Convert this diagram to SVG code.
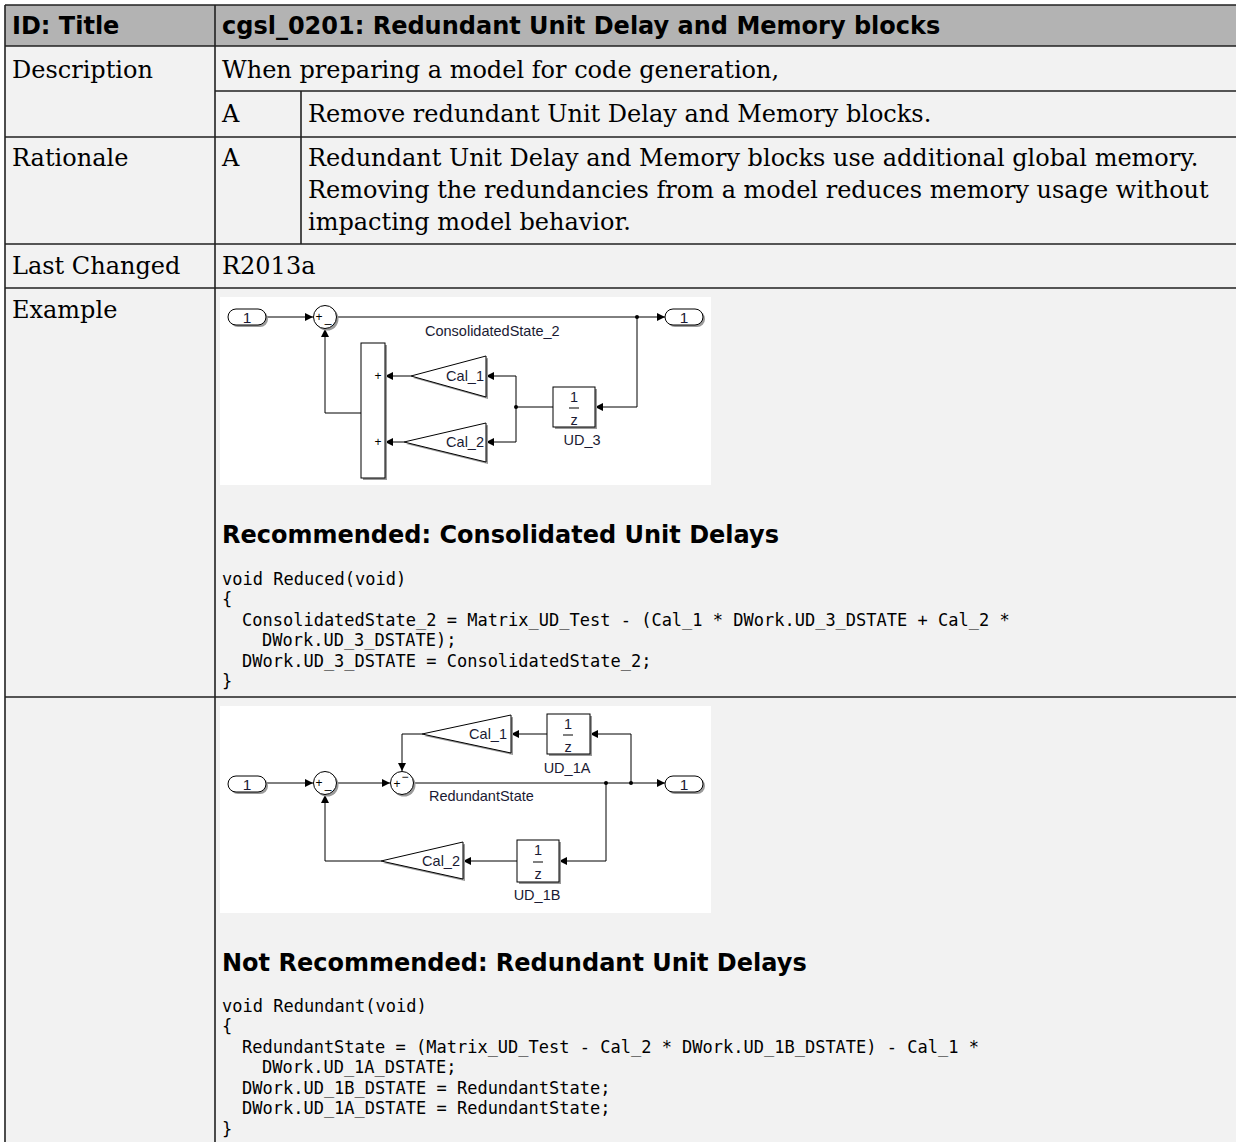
<svg xmlns="http://www.w3.org/2000/svg" width="1236" height="1142" viewBox="0 0 1236 1142">
<defs>
<style>
.hd{font-family:"DejaVu Sans",sans-serif;font-weight:bold;font-size:24px;fill:#000}
.bd{font-family:"DejaVu Serif",serif;font-size:24px;fill:#000}
.sub{font-family:"DejaVu Sans",sans-serif;font-weight:bold;font-size:24px;fill:#000}
.code{font-family:"DejaVu Sans Mono",monospace;font-size:17px;fill:#000}
.grid{stroke:#222;stroke-width:1.6;fill:none}
.lbl{font-family:"Liberation Sans",Arial,sans-serif;font-size:14.5px;fill:#1a1a33}
.pt{font-family:"Liberation Sans",Arial,sans-serif;font-size:15.5px;fill:#1a1a33}
.sg{font-family:"Liberation Sans",Arial,sans-serif;font-size:12px;fill:#000}
.blk{fill:#fff;stroke:#000;stroke-width:1}
.sh{fill:#9a9a9a}
.ln{stroke:#000;stroke-width:1;fill:none}
.dot{fill:#000}
</style>
<marker id="ah" viewBox="0 0 10 10" refX="10" refY="5" markerWidth="9" markerHeight="8" markerUnits="userSpaceOnUse" orient="auto">
<path d="M0,0 L10,5 L0,10 z" fill="#000"/>
</marker>
</defs>

<g id="table">
<rect x="0" y="0" width="1236" height="1142" fill="#fff"/>
<rect x="5" y="5" width="1231" height="1137" fill="#f2f2f2"/>
<rect x="5" y="5" width="1231" height="41" fill="#b3b3b3"/>
<path class="grid" d="M5,5 H1236 M5,46 H1236 M215,91 H1236 M5,137 H1236 M5,244 H1236 M5,288 H1236 M5,697 H1236 M5,5 V1142 M215,5 V1142 M301,91 V244"/>
</g>

<g id="texts">
<text class="hd" x="12" y="34">ID: Title</text>
<text class="hd" x="222" y="34">cgsl_0201: Redundant Unit Delay and Memory blocks</text>
<text class="bd" x="12" y="78">Description</text>
<text class="bd" x="222" y="78">When preparing a model for code generation,</text>
<text class="bd" x="222" y="122">A</text>
<text class="bd" x="308" y="122">Remove redundant Unit Delay and Memory blocks.</text>
<text class="bd" x="12" y="166">Rationale</text>
<text class="bd" x="222" y="166">A</text>
<text class="bd" x="308" y="166">Redundant Unit Delay and Memory blocks use additional global memory.</text>
<text class="bd" x="308" y="198">Removing the redundancies from a model reduces memory usage without</text>
<text class="bd" x="308" y="230">impacting model behavior.</text>
<text class="bd" x="12" y="274">Last Changed</text>
<text class="bd" x="222" y="274">R2013a</text>
<text class="bd" x="12" y="318">Example</text>
<text class="sub" x="222" y="543">Recommended: Consolidated Unit Delays</text>
<text class="code" x="222" y="584.5">void Reduced(void)</text>
<text class="code" x="222" y="605">{</text>
<text class="code" x="242" y="625.5">ConsolidatedState_2 = Matrix_UD_Test - (Cal_1 * DWork.UD_3_DSTATE + Cal_2 *</text>
<text class="code" x="262" y="646">DWork.UD_3_DSTATE);</text>
<text class="code" x="242" y="666.5">DWork.UD_3_DSTATE = ConsolidatedState_2;</text>
<text class="code" x="222" y="687">}</text>
<text class="sub" x="222" y="971">Not Recommended: Redundant Unit Delays</text>
<text class="code" x="222" y="1011.5">void Redundant(void)</text>
<text class="code" x="222" y="1032">{</text>
<text class="code" x="242" y="1052.5">RedundantState = (Matrix_UD_Test - Cal_2 * DWork.UD_1B_DSTATE) - Cal_1 *</text>
<text class="code" x="262" y="1073">DWork.UD_1A_DSTATE;</text>
<text class="code" x="242" y="1093.5">DWork.UD_1B_DSTATE = RedundantState;</text>
<text class="code" x="242" y="1114">DWork.UD_1A_DSTATE = RedundantState;</text>
<text class="code" x="222" y="1134.5">}</text>
</g>

<!-- Diagram 1 -->
<g id="diagram1">
<rect x="220" y="297" width="491" height="188" fill="#fff"/>
<g id="d1-connectors">
<path class="ln" d="M266,317 H313" marker-end="url(#ah)"/>
<path class="ln" d="M337,317 H665" marker-end="url(#ah)"/>
<path class="ln" d="M637,317 V407 H595" marker-end="url(#ah)"/>
<path class="ln" d="M553,407 H516"/>
<path class="ln" d="M516,376 V442"/>
<path class="ln" d="M516,376 H486" marker-end="url(#ah)"/>
<path class="ln" d="M516,442 H486" marker-end="url(#ah)"/>
<path class="ln" d="M411,376 H385" marker-end="url(#ah)"/>
<path class="ln" d="M404,442 H385" marker-end="url(#ah)"/>
<path class="ln" d="M361,413 H325 V329" marker-end="url(#ah)"/>
<circle class="dot" cx="637" cy="317" r="2"/>
<circle class="dot" cx="516" cy="407" r="2"/>
<text class="lbl" x="425" y="336">ConsolidatedState_2</text>
</g>
<g id="d1-in1">
<rect class="sh" x="230" y="311" width="38" height="16" rx="8"/>
<rect class="blk" x="228" y="309" width="38" height="16" rx="8"/>
<text class="pt" x="247" y="323" text-anchor="middle">1</text>
</g>
<g id="d1-sum">
<circle class="sh" cx="327" cy="319" r="11.5"/>
<circle class="blk" cx="325" cy="317" r="11.5"/>
<text class="sg" x="319" y="321" text-anchor="middle">+</text>
<text class="sg" x="328" y="322" text-anchor="middle">_</text>
</g>
<g id="d1-out1">
<rect class="sh" x="667" y="311" width="38" height="16" rx="8"/>
<rect class="blk" x="665" y="309" width="38" height="16" rx="8"/>
<text class="pt" x="684" y="323" text-anchor="middle">1</text>
</g>
<g id="d1-ud3">
<rect class="sh" x="555" y="389" width="42" height="40"/>
<rect class="blk" x="553" y="387" width="42" height="40"/>
<text class="lbl" x="574" y="402" text-anchor="middle">1</text>
<path class="ln" d="M569,408 H579"/>
<text class="lbl" x="574" y="425" text-anchor="middle">z</text>
<text class="lbl" x="582" y="445" text-anchor="middle">UD_3</text>
</g>
<g id="d1-cal1">
<polygon class="sh" points="413,378 488,358 488,399"/>
<polygon class="blk" points="411,376 486,356 486,397"/>
<text class="lbl" x="484" y="381" text-anchor="end">Cal_1</text>
</g>
<g id="d1-cal2">
<polygon class="sh" points="406,444 488,425 488,464"/>
<polygon class="blk" points="404,442 486,423 486,462"/>
<text class="lbl" x="484" y="447" text-anchor="end">Cal_2</text>
</g>
<g id="d1-add">
<rect class="sh" x="363" y="345" width="24" height="135"/>
<rect class="blk" x="361" y="343" width="24" height="135"/>
<text class="sg" x="378" y="380" text-anchor="middle">+</text>
<text class="sg" x="378" y="446" text-anchor="middle">+</text>
</g>
</g>

<!-- Diagram 2 -->
<g id="diagram2">
<rect x="220" y="706" width="491" height="207" fill="#fff"/>
<g id="d2-connectors">
<path class="ln" d="M266,783 H313" marker-end="url(#ah)"/>
<path class="ln" d="M337,783 H390" marker-end="url(#ah)"/>
<path class="ln" d="M414,783 H665" marker-end="url(#ah)"/>
<path class="ln" d="M631,783 V734 H590" marker-end="url(#ah)"/>
<path class="ln" d="M547,734 H511" marker-end="url(#ah)"/>
<path class="ln" d="M422,734 H402 V771" marker-end="url(#ah)"/>
<path class="ln" d="M606,783 V861 H559" marker-end="url(#ah)"/>
<path class="ln" d="M517,861 H463" marker-end="url(#ah)"/>
<path class="ln" d="M381,861 H325 V795" marker-end="url(#ah)"/>
<circle class="dot" cx="606" cy="783" r="2"/>
<circle class="dot" cx="631" cy="783" r="2"/>
<text class="lbl" x="429" y="801">RedundantState</text>
</g>
<g id="d2-in1">
<rect class="sh" x="230" y="778" width="38" height="16" rx="8"/>
<rect class="blk" x="228" y="776" width="38" height="16" rx="8"/>
<text class="pt" x="247" y="790" text-anchor="middle">1</text>
</g>
<g id="d2-sum1">
<circle class="sh" cx="327" cy="785" r="11.5"/>
<circle class="blk" cx="325" cy="783" r="11.5"/>
<text class="sg" x="319" y="787" text-anchor="middle">+</text>
<text class="sg" x="328" y="788" text-anchor="middle">_</text>
</g>
<g id="d2-sum2">
<circle class="sh" cx="404" cy="785" r="11.5"/>
<circle class="blk" cx="402" cy="783" r="11.5"/>
<text class="sg" x="397" y="788" text-anchor="middle">+</text>
<text class="sg" x="405" y="781" text-anchor="middle">−</text>
</g>
<g id="d2-out1">
<rect class="sh" x="667" y="778" width="38" height="16" rx="8"/>
<rect class="blk" x="665" y="776" width="38" height="16" rx="8"/>
<text class="pt" x="684" y="790" text-anchor="middle">1</text>
</g>
<g id="d2-ud1a">
<rect class="sh" x="549" y="716" width="43" height="40"/>
<rect class="blk" x="547" y="714" width="43" height="40"/>
<text class="lbl" x="568" y="729" text-anchor="middle">1</text>
<path class="ln" d="M563,735 H573"/>
<text class="lbl" x="568" y="752" text-anchor="middle">z</text>
<text class="lbl" x="567" y="773" text-anchor="middle">UD_1A</text>
</g>
<g id="d2-cal1">
<polygon class="sh" points="424,736 513,717 513,755"/>
<polygon class="blk" points="422,734 511,715 511,753"/>
<text class="lbl" x="507" y="739" text-anchor="end">Cal_1</text>
</g>
<g id="d2-ud1b">
<rect class="sh" x="519" y="842" width="42" height="42"/>
<rect class="blk" x="517" y="840" width="42" height="42"/>
<text class="lbl" x="538" y="855" text-anchor="middle">1</text>
<path class="ln" d="M533,862 H543"/>
<text class="lbl" x="538" y="879" text-anchor="middle">z</text>
<text class="lbl" x="537" y="900" text-anchor="middle">UD_1B</text>
</g>
<g id="d2-cal2">
<polygon class="sh" points="383,863 465,844 465,881"/>
<polygon class="blk" points="381,861 463,842 463,879"/>
<text class="lbl" x="460" y="866" text-anchor="end">Cal_2</text>
</g>
</g>
</svg>
